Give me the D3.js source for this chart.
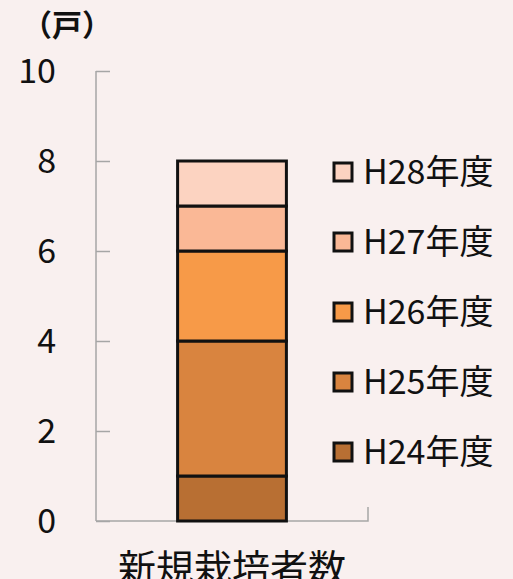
<!DOCTYPE html>
<html>
<head>
<meta charset="utf-8">
<script src="https://cdn.jsdelivr.net/npm/d3@7"></script>
<style>
  body { margin: 0; background: #f9f0ef; }
  svg { display: block; }
</style>
</head>
<body>
<div id="chart"></div>
<script>
// stacked bar: new growers per year
const categories = ["新規栽培者数"];
const seriesNames = ["H24年度", "H25年度", "H26年度", "H27年度", "H28年度"];
const seriesValues = [1, 3, 2, 1, 1];
const seriesColors = ["#b86f33", "#d9843f", "#f79a48", "#fab896", "#fcd3c1"];
const yTicks = [0, 2, 4, 6, 8, 10];
const unitLabel = "（戸）";

const W = 513, H = 579;
const font = "'Noto Sans CJK JP', 'Noto Sans', sans-serif";

const svg = d3.select("#chart")
    .append("svg")
    .attr("width", W)
    .attr("height", H);

// plot area
const x0 = 96, x1 = 368, yTop = 71, yBottom = 521;

const yScale = d3.scaleLinear()
    .domain([0, 10])
    .range([yBottom, yTop]);

const xScale = d3.scaleBand()
    .domain(categories)
    .range([x0, x1])
    .paddingInner(0.6)
    .paddingOuter(0.3);

// stack the series
const row = {};
seriesNames.forEach((s, i) => row[s] = seriesValues[i]);
const stacked = d3.stack().keys(seriesNames)([Object.assign({ cat: categories[0] }, row)]);

// Y axis (ticks point inward)
const yAxis = d3.axisRight(yScale)
    .tickValues(yTicks)
    .tickSize(14)
    .tickFormat("");

const yg = svg.append("g")
    .attr("transform", `translate(${x0},0)`)
    .call(yAxis);
yg.selectAll("path, line").attr("stroke", "#a6a6a6").attr("stroke-width", 1.5);
yg.select(".domain").attr("d", `M0,${yTop}V${yBottom}`);

// tick labels
svg.selectAll(".ylab")
    .data(yTicks)
    .enter()
    .append("text")
    .attr("x", 56)
    .attr("y", d => yScale(d))
    .attr("dy", "0.36em")
    .attr("text-anchor", "end")
    .style("font-family", font)
    .style("font-size", "34px")
    .attr("fill", "#111")
    .text(d => d);

// X axis line with end tick
svg.append("path")
    .attr("d", `M${x0},${yBottom}H${x1}V${yBottom - 14}`)
    .attr("fill", "none")
    .attr("stroke", "#a6a6a6")
    .attr("stroke-width", 1.5);

// bars
svg.selectAll(".seg")
    .data(stacked)
    .enter()
    .append("rect")
    .attr("x", xScale(categories[0]))
    .attr("width", xScale.bandwidth())
    .attr("y", d => yScale(d[0][1]))
    .attr("height", d => yScale(d[0][0]) - yScale(d[0][1]))
    .attr("fill", (d, i) => seriesColors[i])
    .attr("stroke", "#111")
    .attr("stroke-width", 3);

// category label (reference crops it at the bottom edge)
svg.append("text")
    .attr("x", xScale(categories[0]) + xScale.bandwidth() / 2)
    .attr("y", 582)
    .attr("text-anchor", "middle")
    .style("font-family", font)
    .style("font-size", "38px")
    .attr("fill", "#111")
    .text(categories[0]);

// unit label
svg.append("text")
    .attr("x", 22)
    .attr("y", 36)
    .style("font-family", font)
    .style("font-size", "30px")
    .style("font-weight", "bold")
    .attr("fill", "#111")
    .text(unitLabel);

// legend (top entry = last series)
const legend = svg.selectAll(".leg")
    .data(seriesNames.map((s, i) => ({ name: s, color: seriesColors[i] })).reverse())
    .enter()
    .append("g")
    .attr("transform", (d, i) => `translate(334, ${172 + i * 70})`);

legend.append("rect")
    .attr("x", 0)
    .attr("y", -9)
    .attr("width", 18)
    .attr("height", 18)
    .attr("fill", d => d.color)
    .attr("stroke", "#111")
    .attr("stroke-width", 3);

legend.append("text")
    .attr("x", 29)
    .attr("y", 0)
    .attr("dy", "0.36em")
    .style("font-family", font)
    .style("font-size", "34px")
    .attr("fill", "#111")
    .text(d => d.name);
</script>
</body>
</html>
